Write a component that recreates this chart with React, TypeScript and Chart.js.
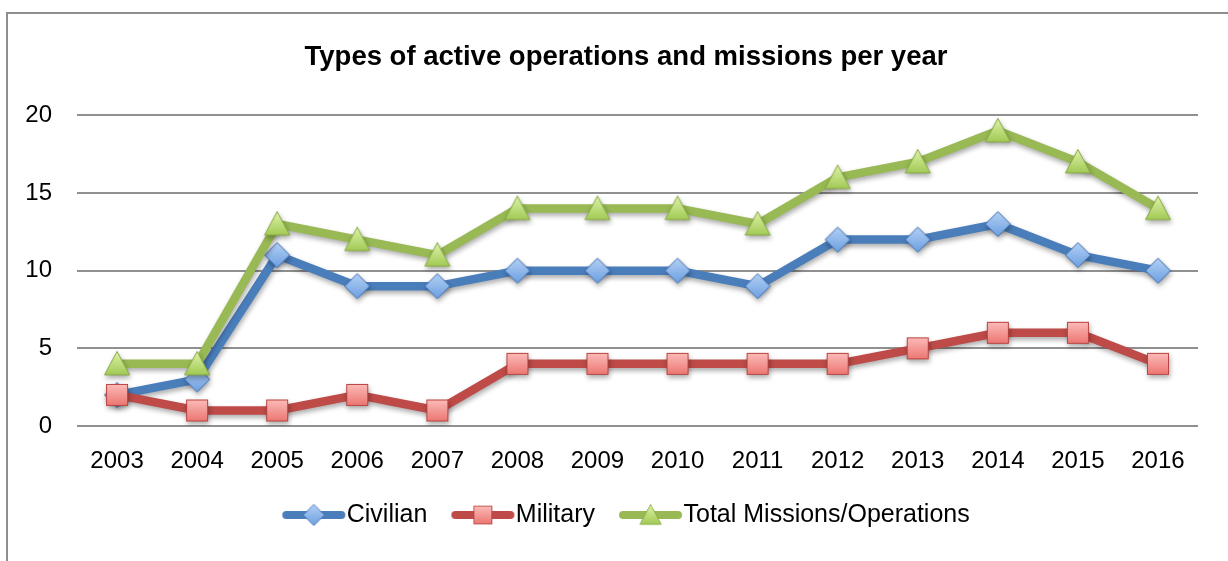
import React, { useEffect, useRef } from "react";
import { Chart, registerables } from "chart.js";

Chart.register(...registerables);

const titleText = "Types of active operations and missions per year";
const years = ["2003", "2004", "2005", "2006", "2007", "2008", "2009", "2010", "2011", "2012", "2013", "2014", "2015", "2016"];
const civilian = [2, 3, 11, 9, 9, 10, 10, 10, 9, 12, 12, 13, 11, 10];
const military = [2, 1, 1, 2, 1, 4, 4, 4, 4, 4, 5, 6, 6, 4];
const total = [4, 4, 13, 12, 11, 14, 14, 14, 13, 16, 17, 19, 17, 14];
const seriesNames = ["Civilian", "Military", "Total Missions/Operations"];
const yMin = 0;
const yMax = 20;
const yStep = 5;

const FONT = "'Liberation Sans', Arial, sans-serif";

function makeCanvas(w: number, h: number) {
  const c = document.createElement("canvas");
  c.width = w;
  c.height = h;
  return c;
}

function diamondMarker() {
  const c = makeCanvas(30, 30);
  const ctx = c.getContext("2d")!;
  ctx.beginPath();
  ctx.moveTo(15, 2.5);
  ctx.lineTo(27.5, 15);
  ctx.lineTo(15, 27.5);
  ctx.lineTo(2.5, 15);
  ctx.closePath();
  const g = ctx.createLinearGradient(0, 2, 0, 28);
  g.addColorStop(0, "#b6d1f4");
  g.addColorStop(1, "#6a9fe1");
  ctx.fillStyle = g;
  ctx.fill();
  ctx.strokeStyle = "#3b6db2";
  ctx.lineWidth = 1;
  ctx.stroke();
  return c;
}

function squareMarker() {
  const c = makeCanvas(28, 28);
  const ctx = c.getContext("2d")!;
  const g = ctx.createLinearGradient(0, 3, 0, 25);
  g.addColorStop(0, "#fcbcba");
  g.addColorStop(1, "#ec7571");
  ctx.fillStyle = g;
  ctx.fillRect(3, 3, 22, 22);
  ctx.strokeStyle = "#b9433f";
  ctx.lineWidth = 1;
  ctx.strokeRect(3.5, 3.5, 21, 21);
  return c;
}

function triangleMarker() {
  const c = makeCanvas(30, 30);
  const ctx = c.getContext("2d")!;
  ctx.beginPath();
  ctx.moveTo(15, 2.5);
  ctx.lineTo(27.5, 26);
  ctx.lineTo(2.5, 26);
  ctx.closePath();
  const g = ctx.createLinearGradient(0, 2, 0, 26);
  g.addColorStop(0, "#e0f4ab");
  g.addColorStop(1, "#a2ca55");
  ctx.fillStyle = g;
  ctx.fill();
  ctx.strokeStyle = "#86a843";
  ctx.lineWidth = 1;
  ctx.stroke();
  return c;
}

function legendImage(color: string, marker: HTMLCanvasElement) {
  const c = makeCanvas(100, 30);
  const ctx = c.getContext("2d")!;
  ctx.strokeStyle = color;
  ctx.lineWidth = 8;
  ctx.lineCap = "round";
  ctx.beginPath();
  ctx.moveTo(28, 15);
  ctx.lineTo(83, 15);
  ctx.stroke();
  const s = 0.85;
  const w = marker.width * s;
  const h = marker.height * s;
  ctx.drawImage(marker, 55.5 - w / 2, 15 - h / 2, w, h);
  return c;
}

const framePlugin = {
  id: "frame",
  beforeDraw(chart: any) {
    const ctx = chart.ctx;
    ctx.save();
    ctx.fillStyle = "#ffffff";
    ctx.fillRect(0, 0, chart.width, chart.height);
    ctx.strokeStyle = "#8e8e8e";
    ctx.lineWidth = 2;
    ctx.beginPath();
    ctx.moveTo(7, chart.height);
    ctx.lineTo(7, 13);
    ctx.lineTo(chart.width, 13);
    ctx.stroke();
    ctx.restore();
  },
};

const shadowPlugin = {
  id: "shadow",
  beforeDatasetDraw(chart: any) {
    const ctx = chart.ctx;
    ctx.save();
    ctx.shadowColor = "rgba(0,0,0,0.32)";
    ctx.shadowBlur = 5;
    ctx.shadowOffsetX = 1;
    ctx.shadowOffsetY = 3;
  },
  afterDatasetDraw(chart: any) {
    chart.ctx.restore();
  },
};

export default function App() {
  const ref = useRef<HTMLCanvasElement>(null);

  useEffect(() => {
    if (!ref.current) return;
    const dMarker = diamondMarker();
    const sMarker = squareMarker();
    const tMarker = triangleMarker();
    const colors = ["#4a7ebb", "#be4b48", "#98b954"];
    const markers = [dMarker, sMarker, tMarker];
    const legendImgs = colors.map((c, i) => legendImage(c, markers[i]));
    const values = [civilian, military, total];

    const chart = new Chart(ref.current, {
      type: "line",
      data: {
        labels: years,
        datasets: values.map((v, i) => ({
          label: seriesNames[i],
          data: v,
          yAxisID: "y",
          borderColor: colors[i],
          backgroundColor: colors[i],
          borderWidth: 8.5,
          borderJoinStyle: "round" as const,
          borderCapStyle: "round" as const,
          tension: 0,
          fill: false,
          pointStyle: markers[i] as any,
          pointRadius: 10,
          pointHoverRadius: 10,
          order: 3 - i,
        })),
      },
      options: {
        responsive: false,
        animation: false,
        events: [],
        layout: { padding: { left: 24, right: 0, top: 0, bottom: 23.5 } },
        plugins: {
          title: {
            display: true,
            text: titleText,
            color: "#000",
            font: { family: FONT, size: 27.5, weight: "bold", lineHeight: 1.2 },
            padding: { top: 41, bottom: 41.3 },
          },
          legend: {
            display: true,
            position: "bottom",
            labels: {
              color: "#000",
              font: { family: FONT, size: 25 },
              usePointStyle: true,
              pointStyleWidth: 52,
              padding: 24,
              generateLabels: (ch: any) => {
                const items = (Chart.defaults.plugins.legend.labels as any).generateLabels(ch);
                items.forEach((it: any) => {
                  it.pointStyle = legendImgs[it.datasetIndex];
                });
                return items;
              },
              sort: (a: any, b: any) => a.datasetIndex - b.datasetIndex,
            },
          },
          tooltip: { enabled: false },
        },
        scales: {
          x: {
            type: "category",
            offset: true,
            grid: { display: false, drawTicks: false },
            border: { display: false },
            ticks: { color: "#000", font: { family: FONT, size: 24 }, padding: 21, maxRotation: 0 },
            afterFit: (scale: any) => {
              scale.height = 52.5;
            },
          },
          y: {
            position: "left",
            min: yMin,
            max: yMax,
            grid: { color: "#909090", lineWidth: 2, drawTicks: false },
            border: { display: false },
            ticks: { stepSize: yStep, color: "#000", font: { family: FONT, size: 24 }, padding: 25 },
            afterFit: (scale: any) => {
              scale.width = 53;
            },
          },
          yRight: {
            type: "linear",
            position: "right",
            min: yMin,
            max: yMax,
            grid: { display: false, drawTicks: false },
            border: { display: false },
            ticks: { display: false },
            afterFit: (scale: any) => {
              scale.width = 30;
            },
          },
        },
      },
      plugins: [framePlugin, shadowPlugin],
    });
    return () => chart.destroy();
  }, []);

  return (
    <div style={{ position: "absolute", left: 0, top: 0, width: 1228, height: 561, background: "#fff" }}>
      <canvas ref={ref} width={1228} height={561} style={{ display: "block", width: 1228, height: 561 }} />
    </div>
  );
}
